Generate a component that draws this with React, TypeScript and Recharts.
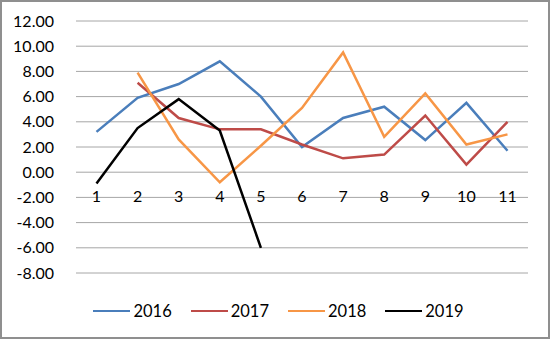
import React from "react";
import { LineChart, Line, XAxis, YAxis, CartesianGrid, Legend, ReferenceDot } from "recharts";

const categories = ["1", "2", "3", "4", "5", "6", "7", "8", "9", "10", "11"];
const values2016 = [3.2, 5.9, 7.0, 8.8, 6.0, 2.0, 4.3, 5.2, 2.55, 5.5, 1.7];
const values2017 = [null, 7.1, 4.3, 3.4, 3.4, 2.2, 1.1, 1.4, 4.5, 0.6, 4.0];
const values2018 = [null, 7.9, 2.6, -0.8, 2.1, 5.1, 9.5, 2.8, 6.25, 2.2, 3.0];
const values2019 = [-0.9, 3.5, 5.8, 3.3, -6.0, null, null, null, null, null, null];
const yTicks = [-8, -6, -4, -2, 0, 2, 4, 6, 8, 10, 12];

const series = [
  { key: "2016", color: "#4a7ebb" },
  { key: "2017", color: "#be4b48" },
  { key: "2018", color: "#f79646" },
  { key: "2019", color: "#000000" },
];

const data = categories.map((cat, i) => ({
  cat,
  "2016": values2016[i],
  "2017": values2017[i],
  "2018": values2018[i],
  "2019": values2019[i],
}));

const FONT = "Lato, 'Open Sans', sans-serif";

function renderLegend() {
  return (
    <div
      style={{
        height: 20,
        display: "flex",
        justifyContent: "center",
        alignItems: "center",
        paddingLeft: 26,
        fontFamily: FONT,
        fontSize: 16.5,
        color: "#000",
      }}
    >
      {series.map((s) => (
        <div key={s.key} style={{ display: "flex", alignItems: "center", marginRight: 19 }}>
          <div style={{ width: 37, height: 2.5, background: s.color, marginRight: 3 }} />
          <span style={{ lineHeight: "20px" }}>{s.key}</span>
        </div>
      ))}
    </div>
  );
}

export default function App() {
  return (
    <div
      style={{
        position: "absolute",
        left: 0,
        top: 0,
        width: 550,
        height: 339,
        border: "2px solid #8f8f8f",
        boxSizing: "border-box",
        background: "#fff",
        fontFamily: FONT,
      }}
    >
      <LineChart width={546} height={335} data={data} margin={{ top: 19, right: 20, bottom: 44, left: 0 }}>
        <CartesianGrid vertical={false} stroke="#a6a6a6" />
        <XAxis dataKey="cat" hide padding={{ left: 20.5, right: 20.5 }} />
        <YAxis
          domain={[-8, 12]}
          ticks={yTicks}
          interval={0}
          axisLine={false}
          tickLine={false}
          tickSize={0}
          tickMargin={22}
          width={74}
          tickFormatter={(v) => Number(v).toFixed(2)}
          tick={{ fontSize: 16, fill: "#000", fontFamily: FONT }}
        />
        {categories.map((c) => (
          <ReferenceDot
            key={c}
            x={c}
            y={0}
            r={0}
            fill="none"
            stroke="none"
            label={{ value: c, position: "bottom", offset: 18, fontSize: 16, fill: "#000", fontFamily: FONT }}
          />
        ))}
        {series.map((s) => (
          <Line
            key={s.key}
            dataKey={s.key}
            stroke={s.color}
            strokeWidth={2.5}
            dot={false}
            type="linear"
            isAnimationActive={false}
          />
        ))}
        <Legend verticalAlign="bottom" content={renderLegend} wrapperStyle={{ left: 0, width: 546, bottom: 16 }} />
      </LineChart>
    </div>
  );
}
